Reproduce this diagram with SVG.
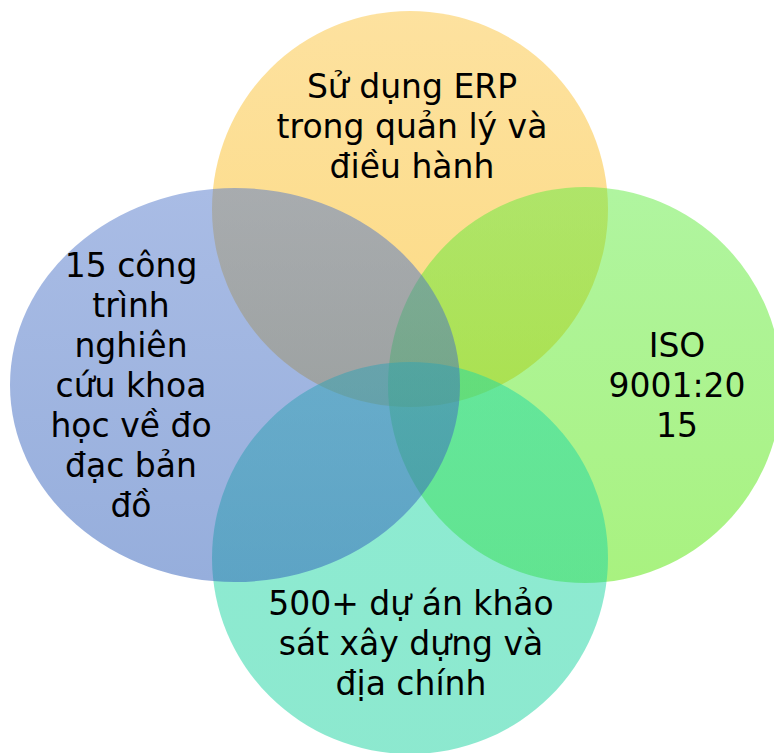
<svg xmlns="http://www.w3.org/2000/svg" width="774" height="753" viewBox="0 0 774 753">
<defs>
<linearGradient id="gY" x1="0" y1="0" x2="0" y2="1"><stop offset="0" stop-color="#FBC43F"/><stop offset="1" stop-color="#F9B505"/></linearGradient>
<linearGradient id="gG" x1="0" y1="0" x2="0" y2="1"><stop offset="0" stop-color="#61EB41"/><stop offset="1" stop-color="#52E500"/></linearGradient>
<linearGradient id="gT" x1="0" y1="0" x2="0" y2="1"><stop offset="0" stop-color="#1DD9A5"/><stop offset="1" stop-color="#1AD29F"/></linearGradient>
<linearGradient id="gB" x1="0" y1="0" x2="0" y2="1"><stop offset="0" stop-color="#5379CB"/><stop offset="1" stop-color="#2D5DB9"/></linearGradient>
</defs>
<style>
.s{opacity:0.5}
.t{font-family:"DejaVu Sans",Verdana,sans-serif;font-size:33px;fill:#000;text-anchor:middle}
</style>
<rect width="774" height="753" fill="#fff"/>
<g id="erp"><ellipse class="s" cx="410" cy="209" rx="198" ry="198" fill="url(#gY)"/></g>
<g id="iso"><ellipse class="s" cx="585" cy="385" rx="197" ry="198" fill="url(#gG)"/></g>
<g id="projects"><ellipse class="s" cx="410" cy="558" rx="198" ry="196" fill="url(#gT)"/></g>
<g id="research"><ellipse class="s" cx="235" cy="385" rx="225" ry="197" fill="url(#gB)"/></g>
<g id="labels">
<text class="t" x="412"><tspan x="412" y="98">Sử dụng ERP</tspan><tspan x="412" y="138">trong quản lý và</tspan><tspan x="412" y="178">điều hành</tspan></text>
<text class="t"><tspan x="677" y="357">ISO</tspan><tspan x="677" y="397">9001:20</tspan><tspan x="677" y="437">15</tspan></text>
<text class="t"><tspan x="131" y="277">15 công</tspan><tspan x="131" y="317">trình</tspan><tspan x="131" y="357">nghiên</tspan><tspan x="131" y="397">cứu khoa</tspan><tspan x="131" y="437">học về đo</tspan><tspan x="131" y="477">đạc bản</tspan><tspan x="131" y="517">đồ</tspan></text>
<text class="t"><tspan x="411" y="615">500+ dự án khảo</tspan><tspan x="411" y="655">sát xây dựng và</tspan><tspan x="411" y="695">địa chính</tspan></text>
</g>
<g id="connectors"/>
</svg>
